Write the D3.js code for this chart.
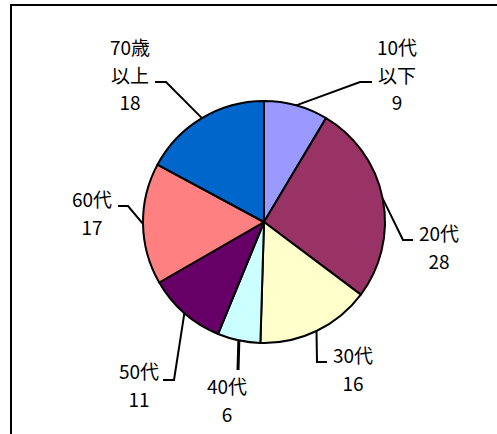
<!DOCTYPE html>
<html>
<head>
<meta charset="utf-8">
<script src="https://cdn.jsdelivr.net/npm/d3@7/dist/d3.min.js"></script>
<style>
  html, body { margin: 0; padding: 0; background: #fff; }
  svg { display: block; }
  text { font-family: "Noto Sans CJK JP", "Noto Sans", sans-serif; font-size: 19px; fill: #000; }
</style>
</head>
<body>
<svg id="chart" width="497" height="434"></svg>
<script>
// ---- data ----
const categories = ["10代以下", "20代", "30代", "40代", "50代", "60代", "70歳以上"];
const labelLines = [["10代", "以下"], ["20代"], ["30代"], ["40代"], ["50代"], ["60代"], ["70歳", "以上"]];
const values = [9, 28, 16, 6, 11, 17, 18];
const colors = ["#9999FF", "#993366", "#FFFFCC", "#CCFFFF", "#660066", "#FF8080", "#0066CC"];

// ---- layout (label placement, leader elbows) ----
const cx = 264, cy = 222, radius = 121;
const labelCenter = [[397, 55], [439, 241], [353, 363], [227, 394], [139, 379], [92, 207], [130, 55]];
const leaderBend = [
  [[360, 82], [372, 82]],
  [[403, 240], [413, 240]],
  [[317, 362], [327, 362]],
  [[238, 370]],
  [[174, 380], [163, 380]],
  [[128, 206], [118, 206]],
  [[166, 82], [155, 82]]
];
const lineGap = 27.5;

const svg = d3.select("#chart");

// frame
svg.append("rect")
  .attr("x", 11).attr("y", 5)
  .attr("width", 600).attr("height", 600)
  .attr("fill", "none").attr("stroke", "#000").attr("stroke-width", 2);

const pie = d3.pie().sort(null).value(d => d)(values);
const arc = d3.arc().innerRadius(0).outerRadius(radius);
const g = svg.append("g").attr("transform", `translate(${cx},${cy})`);

g.selectAll("path.slice")
  .data(pie)
  .join("path")
  .attr("class", "slice")
  .attr("d", arc)
  .attr("fill", (d, i) => colors[i])
  .attr("stroke", "#000")
  .attr("stroke-width", 2)
  .attr("stroke-linejoin", "round");

// leader lines
const line = d3.line();
pie.forEach((d, i) => {
  const mid = (d.startAngle + d.endAngle) / 2;
  const start = [cx + radius * Math.sin(mid), cy - radius * Math.cos(mid)];
  const pts = [start].concat(leaderBend[i]);
  svg.append("path")
    .attr("d", line(pts))
    .attr("fill", "none")
    .attr("stroke", "#000")
    .attr("stroke-width", i === 3 ? 3 : 2);
});

// labels
pie.forEach((d, i) => {
  const lines = labelLines[i].concat([String(values[i])]);
  const t = svg.append("text")
    .attr("text-anchor", "middle")
    .attr("x", labelCenter[i][0])
    .attr("y", labelCenter[i][1]);
  lines.forEach((s, k) => {
    t.append("tspan")
      .attr("x", labelCenter[i][0])
      .attr("y", labelCenter[i][1] + k * lineGap)
      .text(s);
  });
});
</script>
</body>
</html>
